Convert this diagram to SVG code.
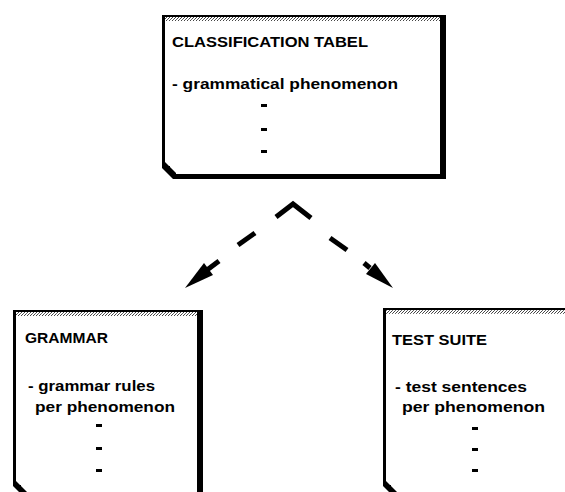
<svg xmlns="http://www.w3.org/2000/svg" width="565" height="492" viewBox="0 0 565 492">
  <defs>
    <!-- fine dotted strip under the top edge of each card -->
    <pattern id="hatch" width="3" height="3" patternUnits="userSpaceOnUse">
      <rect width="3" height="3" fill="#fff"/>
      <rect x="0" y="0" width="1" height="1" fill="#444"/>
      <rect x="2" y="1" width="1" height="1" fill="#666"/>
      <rect x="1" y="2" width="1" height="1" fill="#444"/>
    </pattern>
    <style>
      .ink { fill: #000; }
      .strip { fill: url(#hatch); }
      .paper { fill: #fff; }
      .title { font-family: "Liberation Sans", Arial, sans-serif; font-weight: bold; font-size: 15px; fill: #000; }
      .body { font-family: "Liberation Sans", Arial, sans-serif; font-weight: bold; font-size: 15.5px; fill: #000; }
      .dash { stroke: #000; stroke-width: 5; stroke-linecap: butt; fill: none; stroke-linejoin: miter; }
    </style>
  </defs>

  <rect width="565" height="492" fill="#fff"/>

  <!-- classification table card -->
  <g id="classification-tabel">
    <rect class="paper" x="162" y="15" width="284" height="164"/>
    <rect class="ink" x="162" y="15" width="284" height="2"/>
    <rect class="strip" x="165" y="17" width="275" height="4"/>
    <rect class="ink" x="162" y="15" width="3" height="149"/>
    <rect class="ink" x="440" y="15" width="6" height="164"/>
    <rect class="ink" x="174" y="174" width="272" height="5"/>
    <polygon class="ink" points="162,162 165,162 176,173 176,179 173,179 162,168"/>
    <rect class="ink" x="167" y="166" width="3" height="3"/>
    <text class="title" x="172" y="47" textLength="196" lengthAdjust="spacingAndGlyphs">CLASSIFICATION TABEL</text>
    <text class="body" x="172" y="89" textLength="226" lengthAdjust="spacingAndGlyphs">- grammatical phenomenon</text>
    <rect class="ink" x="261" y="104" width="6" height="3"/>
    <rect class="ink" x="261" y="128" width="6" height="3"/>
    <rect class="ink" x="261" y="150" width="6" height="3"/>
  </g>

  <!-- grammar card -->
  <g id="grammar">
    <rect class="paper" x="13" y="310" width="190" height="190"/>
    <rect class="ink" x="13" y="310" width="190" height="2"/>
    <rect class="strip" x="16" y="312" width="181" height="4"/>
    <rect class="ink" x="13" y="310" width="3" height="173"/>
    <rect class="ink" x="197" y="310" width="6" height="190"/>
    <polygon class="ink" points="13,481 16,481 27,492 27,497 24,497 13,486"/>
    <rect class="ink" x="18" y="485" width="3" height="3"/>
    <text class="title" x="25" y="343" textLength="83" lengthAdjust="spacingAndGlyphs">GRAMMAR</text>
    <text class="body" x="28" y="391" textLength="127" lengthAdjust="spacingAndGlyphs">- grammar rules</text>
    <text class="body" x="35" y="412" textLength="140" lengthAdjust="spacingAndGlyphs">per phenomenon</text>
    <rect class="ink" x="96" y="424" width="6" height="3"/>
    <rect class="ink" x="96" y="447" width="6" height="3"/>
    <rect class="ink" x="96" y="469" width="6" height="3"/>
  </g>

  <!-- test suite card -->
  <g id="test-suite">
    <rect class="paper" x="383" y="308" width="190" height="190"/>
    <rect class="ink" x="383" y="308" width="190" height="2"/>
    <rect class="strip" x="386" y="310" width="187" height="4"/>
    <rect class="ink" x="383" y="308" width="3" height="175"/>
    <polygon class="ink" points="383,481 386,481 397,492 397,497 394,497 383,486"/>
    <rect class="ink" x="388" y="485" width="3" height="3"/>
    <text class="title" x="392" y="345" textLength="95" lengthAdjust="spacingAndGlyphs">TEST SUITE</text>
    <text class="body" x="395" y="392" textLength="132" lengthAdjust="spacingAndGlyphs">- test sentences</text>
    <text class="body" x="402" y="412" textLength="143" lengthAdjust="spacingAndGlyphs">per phenomenon</text>
    <rect class="ink" x="472" y="427" width="6" height="3"/>
    <rect class="ink" x="472" y="448" width="6" height="3"/>
    <rect class="ink" x="472" y="469" width="6" height="3"/>
  </g>

  <!-- dashed connectors from the table down to both cards -->
  <g id="connectors">
    <polyline class="dash" points="276,217 293,204 311,218"/>
    <line class="dash" x1="238" y1="245" x2="255" y2="233"/>
    <line class="dash" x1="330" y1="238" x2="347" y2="250"/>
    <line class="dash" x1="207" y1="270" x2="219" y2="261"/>
    <polygon class="ink" points="185,288 204,263 213,275"/>
    <line class="dash" x1="370" y1="268" x2="364" y2="263"/>
    <polygon class="ink" points="393,288 366,274 375,263"/>
  </g>
</svg>
